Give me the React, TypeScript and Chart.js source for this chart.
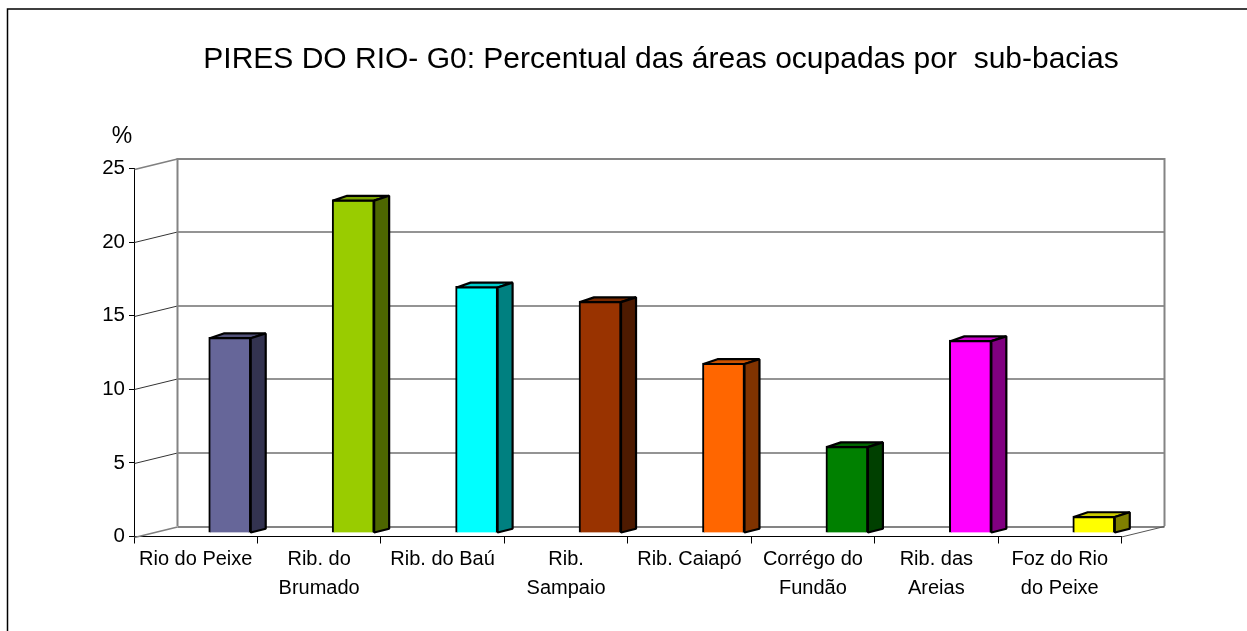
import React, { useEffect, useRef } from "react";
import { Chart, registerables } from "chart.js";

Chart.register(...registerables);

const categories: string[][] = [
  ["Rio do Peixe"],
  ["Rib. do", "Brumado"],
  ["Rib. do Baú"],
  ["Rib.", "Sampaio"],
  ["Rib. Caiapó"],
  ["Corrégo do", "Fundão"],
  ["Rib. das", "Areias"],
  ["Foz do Rio", "do Peixe"],
];
const percentages = [13.3, 22.65, 16.75, 15.75, 11.55, 5.9, 13.1, 1.15];
const frontColors = ["#666699", "#99CC00", "#00FFFF", "#993300", "#FF6600", "#008000", "#FF00FF", "#FFFF00"];
const sideColors = ["#333350", "#4D6600", "#008080", "#4D1A00", "#803300", "#004000", "#800080", "#808000"];
const topColors = ["#52527A", "#7AA300", "#00CCCC", "#7A2900", "#CC5200", "#006600", "#CC00CC", "#CCCC00"];
const chartTitle = "PIRES DO RIO- G0: Percentual das áreas ocupadas por  sub-bacias";
const unitLabel = "%";

const FONT = '"Liberation Sans", Arial, sans-serif';
const WALL_DX = 43;
const WALL_DY = -10.5;
const BAR_DX = 34;
const BAR_DY = -3.5;
const SIDE_DX = 15;
const SIDE_DY = -3.8;

const line = (ctx: CanvasRenderingContext2D, pts: number[][], color: string, width: number) => {
  ctx.beginPath();
  pts.forEach(([x, y], i) => (i ? ctx.lineTo(x, y) : ctx.moveTo(x, y)));
  ctx.strokeStyle = color;
  ctx.lineWidth = width;
  ctx.stroke();
};

const poly = (ctx: CanvasRenderingContext2D, pts: number[][], fill: string) => {
  ctx.beginPath();
  pts.forEach(([x, y], i) => (i ? ctx.lineTo(x, y) : ctx.moveTo(x, y)));
  ctx.closePath();
  ctx.fillStyle = fill;
  ctx.fill();
  ctx.strokeStyle = "#000";
  ctx.lineWidth = 2.2;
  ctx.lineJoin = "bevel";
  ctx.stroke();
};

const scene3d = {
  id: "scene3d",
  beforeDatasetsDraw(chart: any) {
    const { ctx, chartArea, scales } = chart;
    const { left, right, bottom } = chartArea;
    const y = scales.y;
    ctx.save();
    // outer frame
    line(ctx, [[7.5, 631], [7.5, 9], [1247, 9]], "#000", 1.5);
    // back wall and floor
    const bl = left + 0.5;
    const br = right;
    y.ticks.forEach((t: any) => {
      const py = Math.round(y.getPixelForValue(t.value)) + 0.5;
      const edge = t.value === 0 || t.value === 25;
      line(ctx, [[bl + WALL_DX, py + WALL_DY], [br + WALL_DX, py + WALL_DY]], edge ? "#848484" : "#707070", edge ? 2 : 1.5);
      line(ctx, [[bl, py], [bl + WALL_DX, py + WALL_DY]], edge ? "#808080" : "#333", edge ? 1.6 : 1);
    });
    line(ctx, [[bl + WALL_DX, bottom + WALL_DY], [bl + WALL_DX, y.top + WALL_DY]], "#848484", 2);
    line(ctx, [[br + WALL_DX, bottom + WALL_DY], [br + WALL_DX, y.top + WALL_DY]], "#848484", 2);
    line(ctx, [[br, bottom + 0.5], [br + WALL_DX, bottom + 0.5 + WALL_DY]], "#555", 1);
    // title and unit
    ctx.fillStyle = "#000";
    ctx.textAlign = "center";
    ctx.textBaseline = "alphabetic";
    ctx.font = `30px ${FONT}`;
    ctx.fillText(chartTitle, 661, 68);
    ctx.font = `23px ${FONT}`;
    ctx.fillText(unitLabel, 122, 143);
    ctx.restore();
  },
  beforeDatasetDraw(chart: any) {
    chart.ctx.save();
    chart.ctx.translate(BAR_DX, BAR_DY);
  },
  afterDatasetDraw(chart: any, args: any) {
    const { ctx } = chart;
    args.meta.data.forEach((bar: any, i: number) => {
      const { x, y, base, width } = bar.getProps(["x", "y", "base", "width"], true);
      const l = x - width / 2;
      const r = x + width / 2;
      poly(ctx, [[l + 1, y + 1], [r, y + 1], [r + SIDE_DX, y + SIDE_DY], [l + SIDE_DX, y + SIDE_DY]], topColors[i]);
      poly(ctx, [[r, y + 1], [r + SIDE_DX, y + SIDE_DY], [r + SIDE_DX, base + SIDE_DY], [r, base]], sideColors[i]);
    });
    ctx.restore();
  },
};

export default function App() {
  const ref = useRef<HTMLCanvasElement>(null);
  useEffect(() => {
    document.body.style.margin = "0";
    const chart = new Chart(ref.current as HTMLCanvasElement, {
      type: "bar",
      data: {
        labels: categories,
        datasets: [
          {
            data: percentages,
            backgroundColor: frontColors,
            borderColor: "#000",
            borderWidth: 2,
            barThickness: 42,
            clip: false,
          } as any,
        ],
      },
      options: {
        responsive: false,
        animation: false,
        layout: { padding: { top: 168.5, right: 125.5, left: 0, bottom: 0 } },
        plugins: { legend: { display: false }, title: { display: false }, tooltip: { enabled: false } },
        scales: {
          x: {
            type: "category",
            offset: true,
            afterFit: (s: any) => { s.height = 94.5; },
            grid: { offset: true, drawOnChartArea: false, tickLength: 7, tickColor: "#000", tickWidth: 1 },
            border: { color: "#000", width: 1 },
            ticks: {
              color: "#000",
              autoSkip: false,
              maxRotation: 0,
              padding: 2,
              font: { family: FONT, size: 20, lineHeight: 1.42 },
            },
          },
          y: {
            min: 0,
            max: 25,
            afterFit: (s: any) => { s.width = 134; },
            grid: { drawOnChartArea: false, tickLength: 5, tickColor: "#000", tickWidth: 1 },
            border: { color: "#000", width: 1 },
            ticks: { stepSize: 5, color: "#000", padding: 4, font: { family: FONT, size: 20.5 } },
          },
        },
      } as any,
      plugins: [scene3d as any],
    });
    return () => chart.destroy();
  }, []);
  return <canvas ref={ref} width={1247} height={631} style={{ display: "block" }} />;
}
